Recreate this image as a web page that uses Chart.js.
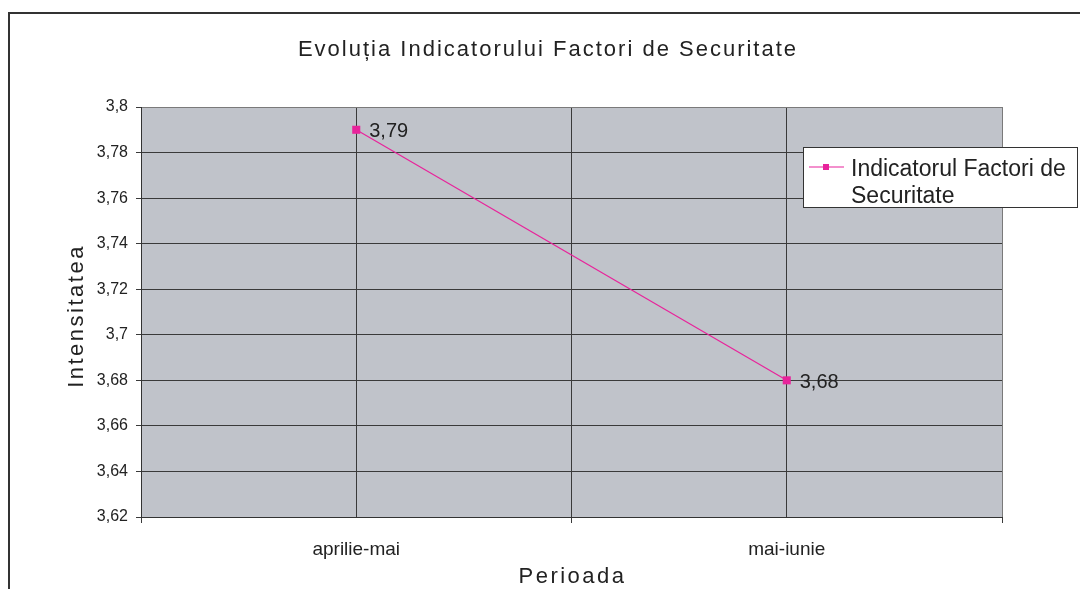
<!DOCTYPE html>
<html>
<head>
<meta charset="utf-8">
<script src="https://cdn.jsdelivr.net/npm/chart.js@4"></script>
<style>
  html, body { margin: 0; padding: 0; background: #fff; overflow: hidden; }
  #wrap { width: 1080px; height: 589px; }
</style>
</head>
<body>
<div id="wrap"><canvas id="myChart" width="1080" height="589"></canvas></div>
<script>
// data
var categories = ['aprilie-mai', 'mai-iunie'];
var values = [3.79, 3.68];
var seriesName = 'Indicatorul Factori de Securitate';
var legendLines = ['Indicatorul Factori de', 'Securitate'];
var chartTitle = 'Evoluția Indicatorului Factori de Securitate';
var xTitle = 'Perioada';
var yTitle = 'Intensitatea';
var yMin = 3.62, yMax = 3.8, yStep = 0.02;

var FONT = '"Liberation Sans", Arial, sans-serif';
var lineColor = '#e8239b';
var gridColor = '#3a3a3a';

function fmt(v) {
    return parseFloat(v.toFixed(2)).toString().replace('.', ',');
}

// plot background, outer frame, titles, value labels and legend
var extras = {
    id: 'extras',
    beforeDraw: function (chart) {
        var ctx = chart.ctx, a = chart.chartArea;
        ctx.save();
        ctx.fillStyle = '#fff';
        ctx.fillRect(0, 0, chart.width, chart.height);
        ctx.fillStyle = '#c0c3ca';
        ctx.fillRect(a.left, a.top, a.right - a.left, a.bottom - a.top);
        ctx.strokeStyle = '#333';
        ctx.lineWidth = 2;
        ctx.strokeRect(9, 13, 1300, 1300);
        ctx.restore();
    },
    afterDraw: function (chart) {
        var ctx = chart.ctx, a = chart.chartArea;
        ctx.save();
        ctx.fillStyle = '#222';
        ctx.textBaseline = 'alphabetic';

        // chart title
        ctx.font = '22px ' + FONT;
        ctx.letterSpacing = '2px';
        ctx.textAlign = 'center';
        ctx.fillText(chartTitle, 548, 56);

        // x axis title
        ctx.letterSpacing = '2.5px';
        ctx.fillText(xTitle, (a.left + a.right) / 2 + 1, 583);

        // y axis title
        ctx.save();
        ctx.translate(83, (a.top + a.bottom) / 2 + 4);
        ctx.rotate(-Math.PI / 2);
        ctx.fillText(yTitle, 0, 0);
        ctx.restore();
        ctx.letterSpacing = '0px';

        // value labels
        var meta = chart.getDatasetMeta(0);
        ctx.font = '20px ' + FONT;
        ctx.textAlign = 'left';
        ctx.textBaseline = 'middle';
        meta.data.forEach(function (pt, i) {
            ctx.fillText(fmt(values[i]), pt.x + 13, pt.y + 2);
        });

        // legend box (overlaps the plot like the original)
        var lx = 803, ly = 147, lw = 275, lh = 61;
        ctx.fillStyle = '#fff';
        ctx.fillRect(lx, ly, lw, lh);
        ctx.strokeStyle = '#333';
        ctx.lineWidth = 1;
        ctx.strokeRect(lx + 0.5, ly + 0.5, lw - 1, lh - 1);
        ctx.strokeStyle = lineColor;
        ctx.lineWidth = 1.2;
        ctx.beginPath();
        ctx.moveTo(809, 167);
        ctx.lineTo(844, 167);
        ctx.stroke();
        ctx.fillStyle = lineColor;
        ctx.fillRect(823, 164, 6, 6);
        ctx.fillStyle = '#222';
        ctx.font = '23px ' + FONT;
        ctx.textBaseline = 'alphabetic';
        ctx.fillText(legendLines[0], 851, 176);
        ctx.fillText(legendLines[1], 851, 203);
        ctx.restore();
    }
};

var ctx = document.getElementById('myChart').getContext('2d');

var myChart = new Chart(ctx, {
    type: 'line',
    data: {
        datasets: [{
            label: seriesName,
            data: values.map(function (v, i) { return { x: i, y: v }; }),
            borderColor: lineColor,
            backgroundColor: lineColor,
            borderWidth: 1.2,
            pointStyle: 'rect',
            pointRadius: 5.7,
            pointBorderWidth: 0,
            fill: false,
            tension: 0
        }]
    },
    options: {
        responsive: false,
        animation: false,
        events: [],
        layout: { padding: { top: 107, right: 78, left: 0, bottom: 0 } },
        plugins: {
            legend: { display: false },
            title: { display: false },
            tooltip: { enabled: false }
        },
        scales: {
            x: {
                type: 'linear',
                min: -0.5,
                max: categories.length - 0.5,
                afterFit: function (s) { s.height = 72; },
                ticks: {
                    stepSize: 0.5,
                    autoSkip: false,
                    maxRotation: 0,
                    padding: 15,
                    color: '#222',
                    font: { family: FONT, size: 19 },
                    callback: function (v) {
                        return Number.isInteger(v) ? categories[v] : '';
                    }
                },
                grid: {
                    tickLength: 6,
                    color: function (c) {
                        return c.tick && c.tick.value === categories.length - 0.5 ? '#7a7a7a' : gridColor;
                    },
                    tickColor: function (c) {
                        return c.tick && Number.isInteger(c.tick.value) ? 'rgba(0,0,0,0)' : gridColor;
                    }
                },
                border: { color: '#333', width: 1 }
            },
            y: {
                min: yMin,
                max: yMax,
                afterFit: function (s) { s.width = 141; },
                ticks: {
                    stepSize: yStep,
                    padding: 8,
                    color: '#222',
                    font: { family: FONT, size: 16 },
                    callback: function (v) { return fmt(v); }
                },
                grid: {
                    tickLength: 5,
                    color: function (c) {
                        return c.tick && Math.abs(c.tick.value - yMax) < 1e-6 ? '#7a7a7a' : gridColor;
                    },
                    tickColor: gridColor
                },
                border: { color: '#333', width: 1 }
            }
        }
    },
    plugins: [extras]
});
</script>
</body>
</html>
